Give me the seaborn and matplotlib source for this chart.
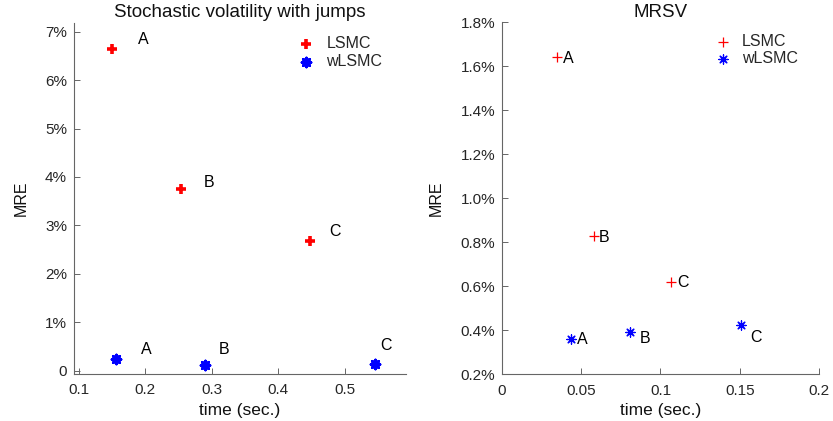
import matplotlib
matplotlib.use("Agg")
import matplotlib.pyplot as plt
import matplotlib.ticker as mticker
import seaborn as sns
import pandas as pd

# ---- data (MRE in percent, time in seconds) ----
labels = ["A", "B", "C"]

svj_lsmc_time = [0.149, 0.254, 0.447]
svj_lsmc_mre = [6.64, 3.76, 2.68]
svj_wlsmc_time = [0.155, 0.290, 0.546]
svj_wlsmc_mre = [0.24, 0.11, 0.13]

mrsv_lsmc_time = [0.0345, 0.0578, 0.1069]
mrsv_lsmc_mre = [1.645, 0.83, 0.62]
mrsv_wlsmc_time = [0.0435, 0.0806, 0.1508]
mrsv_wlsmc_mre = [0.36, 0.39, 0.425]

svj_yticks = [0, 1, 2, 3, 4, 5, 6, 7]
svj_xticks = [0.1, 0.2, 0.3, 0.4, 0.5]
mrsv_yticks = [0.2, 0.4, 0.6, 0.8, 1.0, 1.2, 1.4, 1.6, 1.8]
mrsv_xticks = [0, 0.05, 0.1, 0.15, 0.2]

sns.set_theme(style="white")
plt.rcParams["font.family"] = ["Liberation Sans", "DejaVu Sans"]

RED = "#ff0000"
BLUE = "#0000ff"
AXC = "#262626"
ASTERISK = (8, 2, 0)
LABEL_FS = 11.5

fig = plt.figure(figsize=(8.33, 4.21), dpi=100)
ax1 = fig.add_axes([0.0888, 0.1128, 0.3986, 0.8325])
ax2 = fig.add_axes([0.6026, 0.1116, 0.3806, 0.8350])


def style_axes(ax):
    for side in ("top", "right"):
        ax.spines[side].set_visible(False)
    for side in ("left", "bottom"):
        ax.spines[side].set_color("#666666")
        ax.spines[side].set_linewidth(0.8)
    ax.tick_params(direction="in", length=4, width=0.7, color="#666666",
                   labelsize=11, labelcolor=AXC, left=True, bottom=True)
    ax.tick_params(axis="x", pad=7)
    ax.tick_params(axis="y", pad=5)
    ax.set_xlabel("time (sec.)", fontsize=12.5, color="#111111", labelpad=4)
    ax.set_ylabel("MRE", fontsize=11.5, color="#111111", labelpad=12)


def annotate_points(ax, xs, ys, offsets):
    for lab, x, y, off in zip(labels, xs, ys, offsets):
        ax.annotate(lab, (x, y), xytext=off, textcoords="offset points",
                    fontsize=LABEL_FS, color="black", va="center", ha="left")


# ---- left panel: stochastic volatility with jumps ----
df1a = pd.DataFrame({"t": svj_lsmc_time, "m": svj_lsmc_mre})
df1b = pd.DataFrame({"t": svj_wlsmc_time, "m": svj_wlsmc_mre})
sns.scatterplot(data=df1a, x="t", y="m", ax=ax1, marker="+", color=RED,
                s=55, linewidth=2.6, label="LSMC", zorder=3)
sns.scatterplot(data=df1b, x="t", y="m", ax=ax1, marker=ASTERISK, color=BLUE,
                edgecolor=BLUE, s=42, linewidth=2.0, label="wLSMC", zorder=3)

annotate_points(ax1, svj_lsmc_time, svj_lsmc_mre, [(19, 7), (16, 4), (14, 7)])
annotate_points(ax1, svj_wlsmc_time, svj_wlsmc_mre, [(18, 7), (9.6, 11.5), (3.6, 13.7)])

ax1.set_xlim(0.0925, 0.592)
ax1.set_ylim(-0.062, 7.18)
ax1.set_xticks(svj_xticks)
ax1.set_yticks(svj_yticks)
ax1.yaxis.set_major_formatter(
    mticker.FuncFormatter(lambda v, p: "0" if abs(v) < 1e-9 else f"{v:.0f}%"))
ax1.xaxis.set_major_formatter(mticker.FuncFormatter(lambda v, p: f"{v:g}"))
ax1.set_title("Stochastic volatility with jumps", fontsize=13.5, color="#111111", pad=4)
style_axes(ax1)
ax1.legend(loc="upper left", bbox_to_anchor=(0.65, 0.982), frameon=False,
           fontsize=11.5, handletextpad=0.7, labelspacing=0.19,
           handlelength=1.2, borderaxespad=0.0, borderpad=0.4)

# ---- right panel: MRSV ----
df2a = pd.DataFrame({"t": mrsv_lsmc_time, "m": mrsv_lsmc_mre})
df2b = pd.DataFrame({"t": mrsv_wlsmc_time, "m": mrsv_wlsmc_mre})
sns.scatterplot(data=df2a, x="t", y="m", ax=ax2, marker="+", color=RED,
                s=55, linewidth=0.9, label="LSMC", zorder=3)
sns.scatterplot(data=df2b, x="t", y="m", ax=ax2, marker=ASTERISK, color=BLUE,
                edgecolor=BLUE, s=45, linewidth=0.9, label="wLSMC", zorder=3)

annotate_points(ax2, mrsv_lsmc_time, mrsv_lsmc_mre, [(4.6, -1.2), (3.8, -1.4), (4.5, -0.5)])
annotate_points(ax2, mrsv_wlsmc_time, mrsv_wlsmc_mre, [(4.3, -0.7), (7.5, -4.5), (6.8, -9.6)])

ax2.set_xlim(0, 0.2)
ax2.set_ylim(0.2, 1.8)
ax2.set_xticks(mrsv_xticks)
ax2.set_yticks(mrsv_yticks)
ax2.yaxis.set_major_formatter(mticker.FuncFormatter(lambda v, p: f"{v:.1f}%"))
ax2.xaxis.set_major_formatter(mticker.FuncFormatter(lambda v, p: f"{v:g}"))
ax2.set_title("MRSV", fontsize=13.5, color="#111111", pad=4)
style_axes(ax2)
ax2.legend(loc="upper left", bbox_to_anchor=(0.646, 0.984), frameon=False,
           fontsize=11.5, handletextpad=0.59, labelspacing=0.12,
           handlelength=1.2, borderaxespad=0.0, borderpad=0.4)

fig.savefig("out.png", dpi=100)
